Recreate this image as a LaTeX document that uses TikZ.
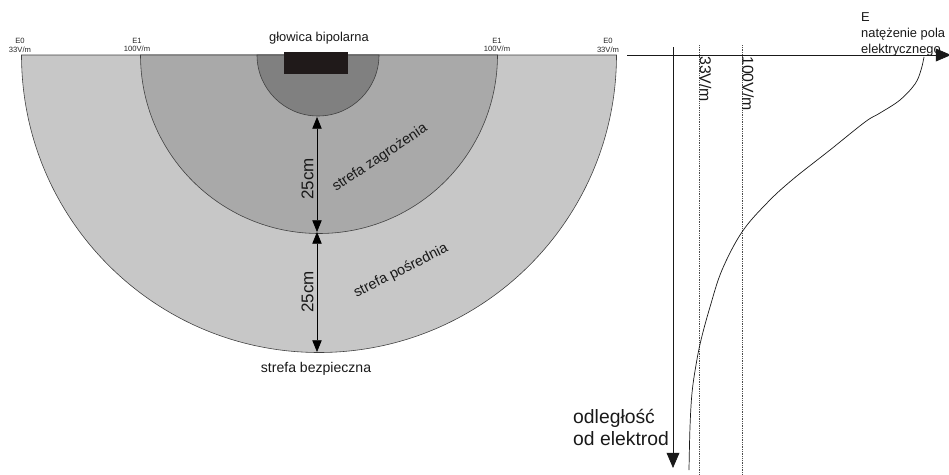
\documentclass[tikz,border=0pt]{standalone}
\usepackage{fontspec}
\setmainfont{Liberation Sans}
\usetikzlibrary{arrows.meta, positioning}

\definecolor{safezone}{RGB}{199,199,199}
\definecolor{midzone}{RGB}{169,169,169}
\definecolor{dangerzone}{RGB}{128,128,128}
\definecolor{headfill}{RGB}{32,26,26}

\begin{document}
\begin{tikzpicture}[x=0.03cm, y=-0.03cm, >={Triangle[length=10pt,width=8pt]}]
  \tikzstyle{ring} = [draw=black!75, line width=0.5pt]
  \tikzstyle{tiny} = [font=\fontsize{6.5}{7.5}\selectfont, align=center, inner sep=0pt, text=black!85]
  \tikzstyle{zone} = [font=\fontsize{12.3}{14}\selectfont, inner sep=0pt, text=black!90]
  \tikzstyle{dimlabel} = [font=\fontsize{14.5}{16}\selectfont, rotate=90, inner sep=0pt, text=black!90]
  \tikzstyle{levellabel} = [font=\fontsize{13.5}{15}\selectfont, rotate=-90, inner sep=0pt, anchor=west, text=black!90]
  \tikzstyle{axis} = [line width=0.6pt, black!90, -{Triangle[length=13pt,width=11pt]}]
  \tikzstyle{level} = [densely dotted, line width=0.5pt, black!70]
  \useasboundingbox (0,0) rectangle (949,475);

  % strefy wokol glowicy
  \coordinate (c) at (319,55);
  \filldraw[ring, fill=safezone] (c) ++(-297.5,0) arc[start angle=180, end angle=0, radius=297.5] -- cycle;
  \filldraw[ring, fill=midzone] (c) ++(-178.5,0) arc[start angle=180, end angle=0, radius=178.5] -- cycle;
  \filldraw[ring, fill=dangerzone] (318,55) ++(-61,0) arc[start angle=180, end angle=0, radius=61] -- cycle;
  \fill[headfill] (284,52) rectangle (348,74);

  \node[tiny] (E0l) at (20,45) {E0\\33V/m};
  \node[tiny] (E1l) at (137,45) {E1\\100V/m};
  \node[tiny] (E1r) at (497,45) {E1\\100V/m};
  \node[tiny] (E0r) at (608,45) {E0\\33V/m};
  \node[zone, font=\fontsize{11}{13}\selectfont, anchor=base] (head) at (319,41.5) {głowica bipolarna};

  % wymiary
  \coordinate (inner) at (317,117);
  \coordinate (middle) at (317,232);
  \coordinate (outer) at (317,352);
  \draw[<->, line width=0.6pt] (inner) -- (middle);
  \draw[<->, line width=0.6pt] (middle) -- (outer);
  \node[dimlabel] (d1) at (307.5,179) {25cm};
  \node[dimlabel] (d2) at (307.5,292) {25cm};

  \node[zone, rotate=33.7] (danger) at (380,158) {strefa zagrożenia};
  \node[zone, rotate=26.6] (mid) at (401,271) {strefa pośrednia};
  \node[zone, font=\fontsize{12}{14}\selectfont, anchor=base] (safe) at (316,372) {strefa bezpieczna};

  % wykres natezenia pola
  \coordinate (xstart) at (627,55);
  \coordinate (xend) at (951,55);
  \coordinate (ystart) at (673,47);
  \coordinate (yend) at (673,468);
  \draw[axis] (xstart) -- (xend);
  \draw[axis] (ystart) -- (yend);
  \coordinate (l33top) at (699,45);
  \coordinate (l33bot) at (699,475);
  \coordinate (l100top) at (742,45);
  \coordinate (l100bot) at (742,475);
  \draw[level] (l33top) -- (l33bot);
  \draw[level] (l100top) -- (l100bot);
  \node[levellabel] (v33) at (705.5,56) {33V/m};
  \node[levellabel] (v100) at (748,56) {100V/m};

  \node[font=\fontsize{11}{13.7}\selectfont, align=left, anchor=north west, inner sep=0pt, text=black!90] (field) at (861,12.5) {E\\natężenie pola\\elektrycznego};
  \node[font=\fontsize{16.5}{19}\selectfont, align=left, anchor=north west, inner sep=0pt, text=black!90] (dist) at (573,409) {odległość\\od elektrod};

  \draw[line width=0.6pt, black!90] plot[smooth, tension=0.6] coordinates {(924,57) (921,70) (915,84) (900,100) (880,113) (865,122) (830,150) (792,180) (767,203) (742,232) (722,270) (710,307) (701,340) (696,365) (692,393) (690,427) (689,470)};
\end{tikzpicture}
\end{document}
